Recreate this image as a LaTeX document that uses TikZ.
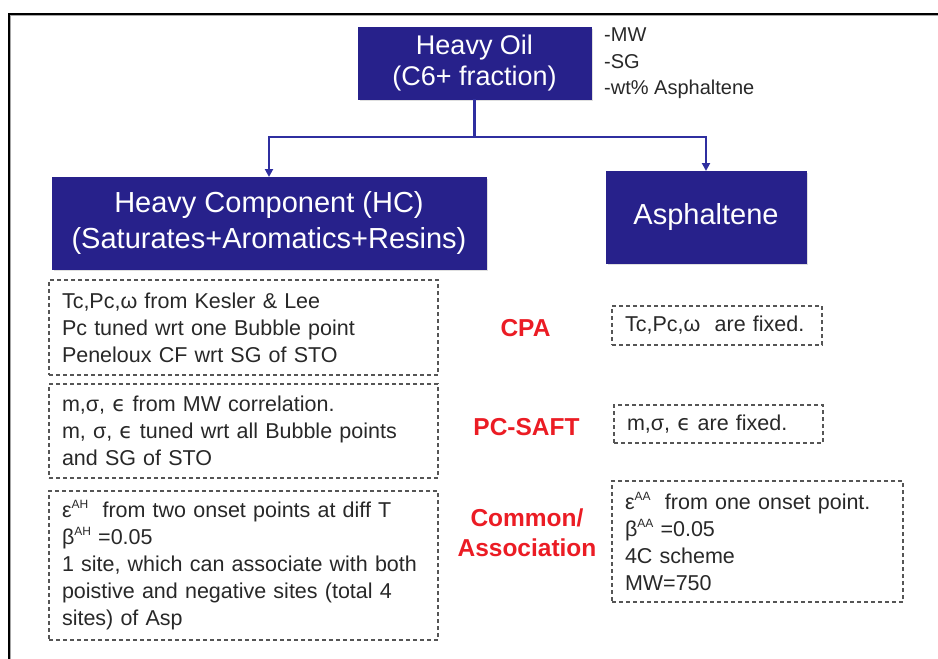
\documentclass[tikz,border=0pt]{standalone}
\usepackage{fontspec}
\setmainfont{Liberation Sans}
\newfontfamily\symfont{DejaVu Sans}
\usetikzlibrary{arrows.meta,shadows}

\definecolor{headblue}{RGB}{39,33,139}
\definecolor{linkblue}{RGB}{47,47,160}
\definecolor{eosred}{RGB}{235,28,36}
\definecolor{dashgray}{RGB}{85,85,85}
\definecolor{bodytext}{RGB}{40,40,40}

\newcommand{\lunate}{{\symfont ϵ}}
\newcommand{\supr}[1]{\raisebox{0.42em}{\fontsize{12}{12}\selectfont #1}}

\tikzset{
  headbox/.style={draw=headblue, fill=headblue, text=white, align=center,
    inner sep=0pt, outer sep=0pt,
    drop shadow={opacity=0.25, shadow xshift=1.5pt, shadow yshift=-1.5pt}},
  notebox/.style={draw=dashgray, line width=1.3pt, dash pattern=on 4pt off 3pt,
    text=bodytext, align=left, inner xsep=13pt, inner ysep=0pt, outer sep=0pt,
    anchor=north west, font=\fontsize{21.5}{27}\selectfont},
  eoslabel/.style={text=eosred, align=center, font=\fontsize{24.5}{30}\selectfont\bfseries},
  plain/.style={text=bodytext, anchor=west, inner sep=0pt, font=\fontsize{20}{24}\selectfont},
  conn/.style={draw=linkblue, line width=2.2pt,
    -{Triangle[width=8pt,length=8pt]}}
}

\begin{document}
\begin{tikzpicture}[x=1pt,y=-1pt]
  \useasboundingbox (0,0) rectangle (938,659);

  % outer frame (runs past the right and bottom edges)
  \fill[black] (7.8,14) rectangle (10.2,659);
  \fill[black] (7.8,12.8) rectangle (938,15.2);
  \fill[black!35] (10.2,15.2) rectangle (11.4,659);
  \fill[black!35] (10.2,15.2) rectangle (938,16.4);

  % top node and its parameter list
  \node[headbox, minimum width=233pt, minimum height=72pt,
        font=\fontsize{27}{31}\selectfont] (oil) at (474.5,63)
        {Heavy Oil\\(C6+ fraction)};
  \node[plain] (mw) at (604,35) {-MW};
  \node[plain] (sg) at (604,62) {-SG};
  \node[plain] (wt) at (604,89) {-wt\% Asphaltene};

  % the two components
  \node[headbox, minimum width=434pt, minimum height=92pt,
        font=\fontsize{29}{36}\selectfont] (hc) at (269,223)
        {Heavy Component (HC)\\(Saturates+Aromatics+Resins)};
  \node[headbox, minimum width=200pt, minimum height=92pt,
        font=\fontsize{29}{36}\selectfont] (asp) at (706,217)
        {Asphaltene};

  % split connectors
  \coordinate (split) at ([yshift=-38pt]oil.south);
  \draw[conn] (oil.south) -- (split) -| (hc.north);
  \draw[conn] (split) -| (asp.north);

  % model labels
  \node[eoslabel] (cpa) at (525.5,328) {CPA};
  \node[eoslabel] (saft) at (526.5,427) {PC-SAFT};
  \node[eoslabel] (assoc) at (527,533) {Common/\\Association};

  % heavy component parameters
  \node[notebox, text width=363pt, minimum height=95pt] (hcpa) at (49,280)
    {Tc,Pc,ω from Kesler \& Lee\\
     Pc tuned wrt one Bubble point\\
     Peneloux CF wrt SG of STO};
  \node[notebox, text width=363pt, minimum height=94pt] (hsaft) at (49,384)
    {m,σ, \lunate{} from MW correlation.\\
     m, σ, \lunate{} tuned wrt all Bubble points\\
     and SG of STO};
  \node[notebox, text width=363pt, minimum height=149pt] (hassoc) at (49,491)
    {ε\supr{AH}\ \ from two onset points at diff T\\
     β\supr{AH} =0.05\\
     1 site, which can associate with both\\
     poistive and negative sites (total 4\\
     sites) of Asp};

  % asphaltene parameters
  \node[notebox, text width=184pt, minimum height=39pt] (acpa) at (612,306)
    {Tc,Pc,ω\ \ are fixed.};
  \node[notebox, text width=183pt, minimum height=38pt] (asaft) at (614,405)
    {m,σ, \lunate{} are fixed.};
  \node[notebox, text width=265pt, minimum height=121pt] (aassoc) at (612,481)
    {ε\supr{AA}\ \ from one onset point.\\
     β\supr{AA} =0.05\\
     4C scheme\\
     MW=750};
\end{tikzpicture}
\end{document}
